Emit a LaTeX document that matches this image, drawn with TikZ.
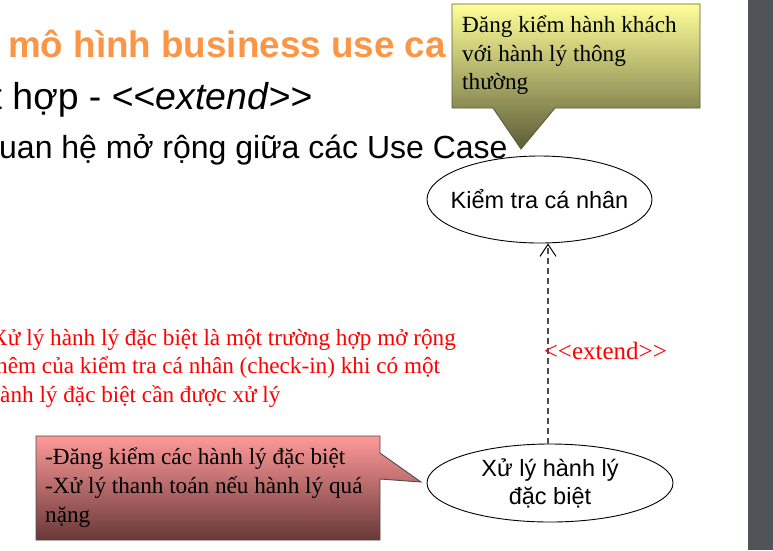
\documentclass[tikz,border=0pt]{standalone}
\usepackage{fontspec}
\setmainfont{Liberation Serif}
\setsansfont{Liberation Sans}
\usepackage{xcolor}
\usetikzlibrary{shapes.geometric,arrows.meta,calc}

\definecolor{titleorange}{RGB}{250,150,70}
\definecolor{noteyellow}{RGB}{255,255,153}
\definecolor{noteolive}{RGB}{92,92,56}
\definecolor{notepink}{RGB}{255,153,153}
\definecolor{notemaroon}{RGB}{104,56,56}
\definecolor{slidegray}{RGB}{80,83,87}

\begin{document}
\begin{tikzpicture}[
    x=1pt, y=-1pt,
    usecase/.style={ellipse, draw, line width=0.9pt, fill=white, inner sep=0pt, align=center, font=\sffamily\fontsize{23.5}{28}\selectfont},
    slideline/.style={anchor=base west, inner sep=0pt, font=\sffamily\fontsize{#1}{#1}\selectfont},
    notetext/.style={anchor=base west, inner sep=0pt, font=\fontsize{23.2}{28.7}\selectfont},
    extendarrow/.style={gray!60!black, line width=1.6pt, dash pattern=on 6pt off 4pt, -{Straight Barb[length=12pt,width=16pt,line width=1pt,black]}}
]
\useasboundingbox (0,0) rectangle (773,550);
\clip (0,0) rectangle (773,550);

\fill[slidegray] (748,0) rectangle (773,550);

\node[slideline=36.8, text=titleorange] (title) at (8,57) {\bfseries mô hình business use ca};
\node[slideline=37.4] (subtitle) at (-8.5,109) {t hợp - <\kern0pt<\textit{extend}>\kern0pt>};
\node[slideline=32] (bullet) at (-1,158) {uan hệ mở rộng giữa các Use Case};

\shade[top color=noteyellow, bottom color=noteolive, draw=noteolive, line width=0.9pt]
    (452,4) -- (700,4) -- (700,108) -- (555,108) -- (521,149) -- (493,108) -- (452,108) -- cycle;
\node[notetext] (bag1) at (462,32) {Đăng kiểm hành khách};
\node[notetext] (bag2) at (462,61) {với hành lý thông};
\node[notetext] (bag3) at (462,89) {thường};

\foreach \dx/\txt [count=\i] in {-9/Xử lý hành lý đặc biệt là một trường hợp mở rộng,
    -4/hêm của kiểm tra cá nhân (check-in) khi có một,
    0/ành lý đặc biệt cần được xử lý}
  \node[notetext, text=red] (remark\i) at (\dx,345+28.5*\i-28.5) {\txt};

\shade[top color=notepink, bottom color=notemaroon, draw=black!70, line width=0.9pt]
    (36,436) -- (380,436) -- (380,453) -- (421,482) -- (380,479) -- (380,540) -- (36,540) -- cycle;
\node[notetext] (special1) at (45,464) {-Đăng kiểm các hành lý đặc biệt};
\node[notetext] (special2) at (45,493) {-Xử lý thanh toán nếu hành lý quá};
\node[notetext] (special3) at (45,522) {nặng};

\node[usecase, minimum width=225pt, minimum height=87pt, inner xsep=-15pt] (checkin) at (539.5,199.5) {Kiểm tra cá nhân};
\node[usecase, minimum width=246pt, minimum height=78pt] (specialbag) at (550,483) {Xử lý hành lý\\đặc biệt};

\draw[extendarrow] (specialbag.north) ++(-2,0) coordinate (extfoot) -- (extfoot |- checkin.south)
    node[pos=0.462, anchor=west, xshift=-5pt, inner sep=0pt, text=red, font=\fontsize{25}{28}\selectfont] (extendlabel) {<\kern0pt<extend>\kern0pt>};
\end{tikzpicture}
\end{document}
